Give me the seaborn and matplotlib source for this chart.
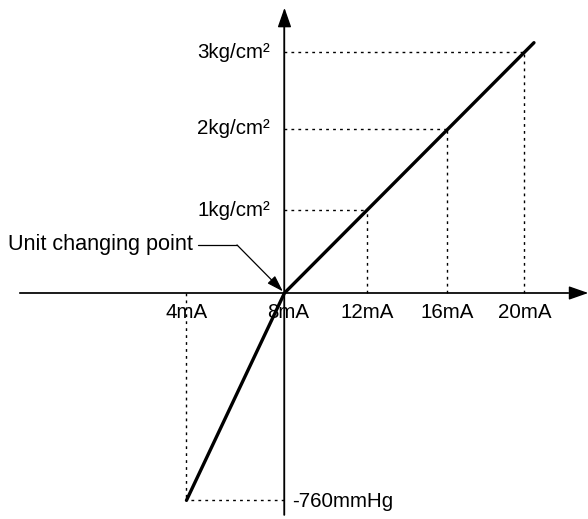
import matplotlib
matplotlib.use("Agg")
import matplotlib.pyplot as plt
import seaborn as sns
import pandas as pd

# diagram units: 8mA / 0 pressure is the origin ("unit changing point")
current_labels = ['4mA', '8mA', '12mA', '16mA', '20mA']
current_x = [-1.21, 0.0, 1.02, 2.01, 2.96]
pressure_labels = ['-760mmHg', '1kg/cm²', '2kg/cm²', '3kg/cm²']
pressure_y = [-2.56, 1.02, 2.03, 2.97]
# which current reading matches each pressure reading
pair_current = ['4mA', '12mA', '16mA', '20mA']

# output characteristic: two straight pieces meeting at the origin
line_x = [-1.21, 0.0, 3.08]
line_y = [-2.56, 0.0, 3.09]

df = pd.DataFrame({'x': line_x, 'y': line_y})

sns.set_style("white")
plt.rcParams['font.family'] = ['Liberation Sans', 'DejaVu Sans']
plt.rcParams['text.color'] = 'black'

fig = plt.figure(figsize=(5.88, 5.19), dpi=100)
ax = fig.add_axes([0, 0, 1, 1])
ax.set_xlim(-3.512, 3.747)
ax.set_ylim(-2.790, 3.617)
ax.axis('off')

axis_col = '#3a3a3a'
# axes with arrow heads
head = '-|>,head_length=1.2,head_width=0.42'
ax.annotate('', xy=(3.75, 0), xytext=(-3.27, 0),
            arrowprops=dict(arrowstyle=head, color='black', lw=1.0,
                            shrinkA=0, shrinkB=0))
ax.annotate('', xy=(0, 3.52), xytext=(0, -2.74),
            arrowprops=dict(arrowstyle=head, color='black', lw=1.0,
                            shrinkA=0, shrinkB=0))
ax.plot([-3.27, 3.5], [0, 0], color=axis_col, lw=1.1)
ax.plot([0, 0], [-2.74, 3.3], color=axis_col, lw=1.1)

# dotted guide lines
xpos = dict(zip(current_labels, current_x))
for lab, py in zip(pair_current, pressure_y):
    px = xpos[lab]
    ax.plot([px, px], [0, py], color='black', lw=1, linestyle=(0, (2, 3)))
    ax.plot([0, px], [py, py], color='black', lw=1, linestyle=(0, (2, 3)))

sns.lineplot(data=df, x='x', y='y', ax=ax, color='black', lw=2.4,
             sort=False, estimator=None)

fs = 14.8
for lab, px in zip(current_labels, current_x):
    ax.text(px + (0.04 if lab == '8mA' else 0), -0.12, lab, ha='center', va='top', fontsize=fs)
for lab, py in zip(pressure_labels, pressure_y):
    if lab.startswith('-'):
        ax.text(0.1, py - 0.02, lab, ha='left', va='center', fontsize=fs)
    else:
        ax.text(-0.18, py, lab, ha='right', va='center', fontsize=fs)

# unit changing point callout
ax.text(-3.41, 0.593, 'Unit changing point', ha='left', va='center', fontsize=15.6)
ax.plot([-1.07, -0.586], [0.593, 0.593], color='black', lw=0.9)
ax.annotate('', xy=(-0.02, 0.02), xytext=(-0.586, 0.593),
            arrowprops=dict(arrowstyle='-|>,head_length=1.0,head_width=0.32',
                            color='black', lw=0.9, shrinkA=0, shrinkB=0))

fig.savefig('out.png', dpi=100)
